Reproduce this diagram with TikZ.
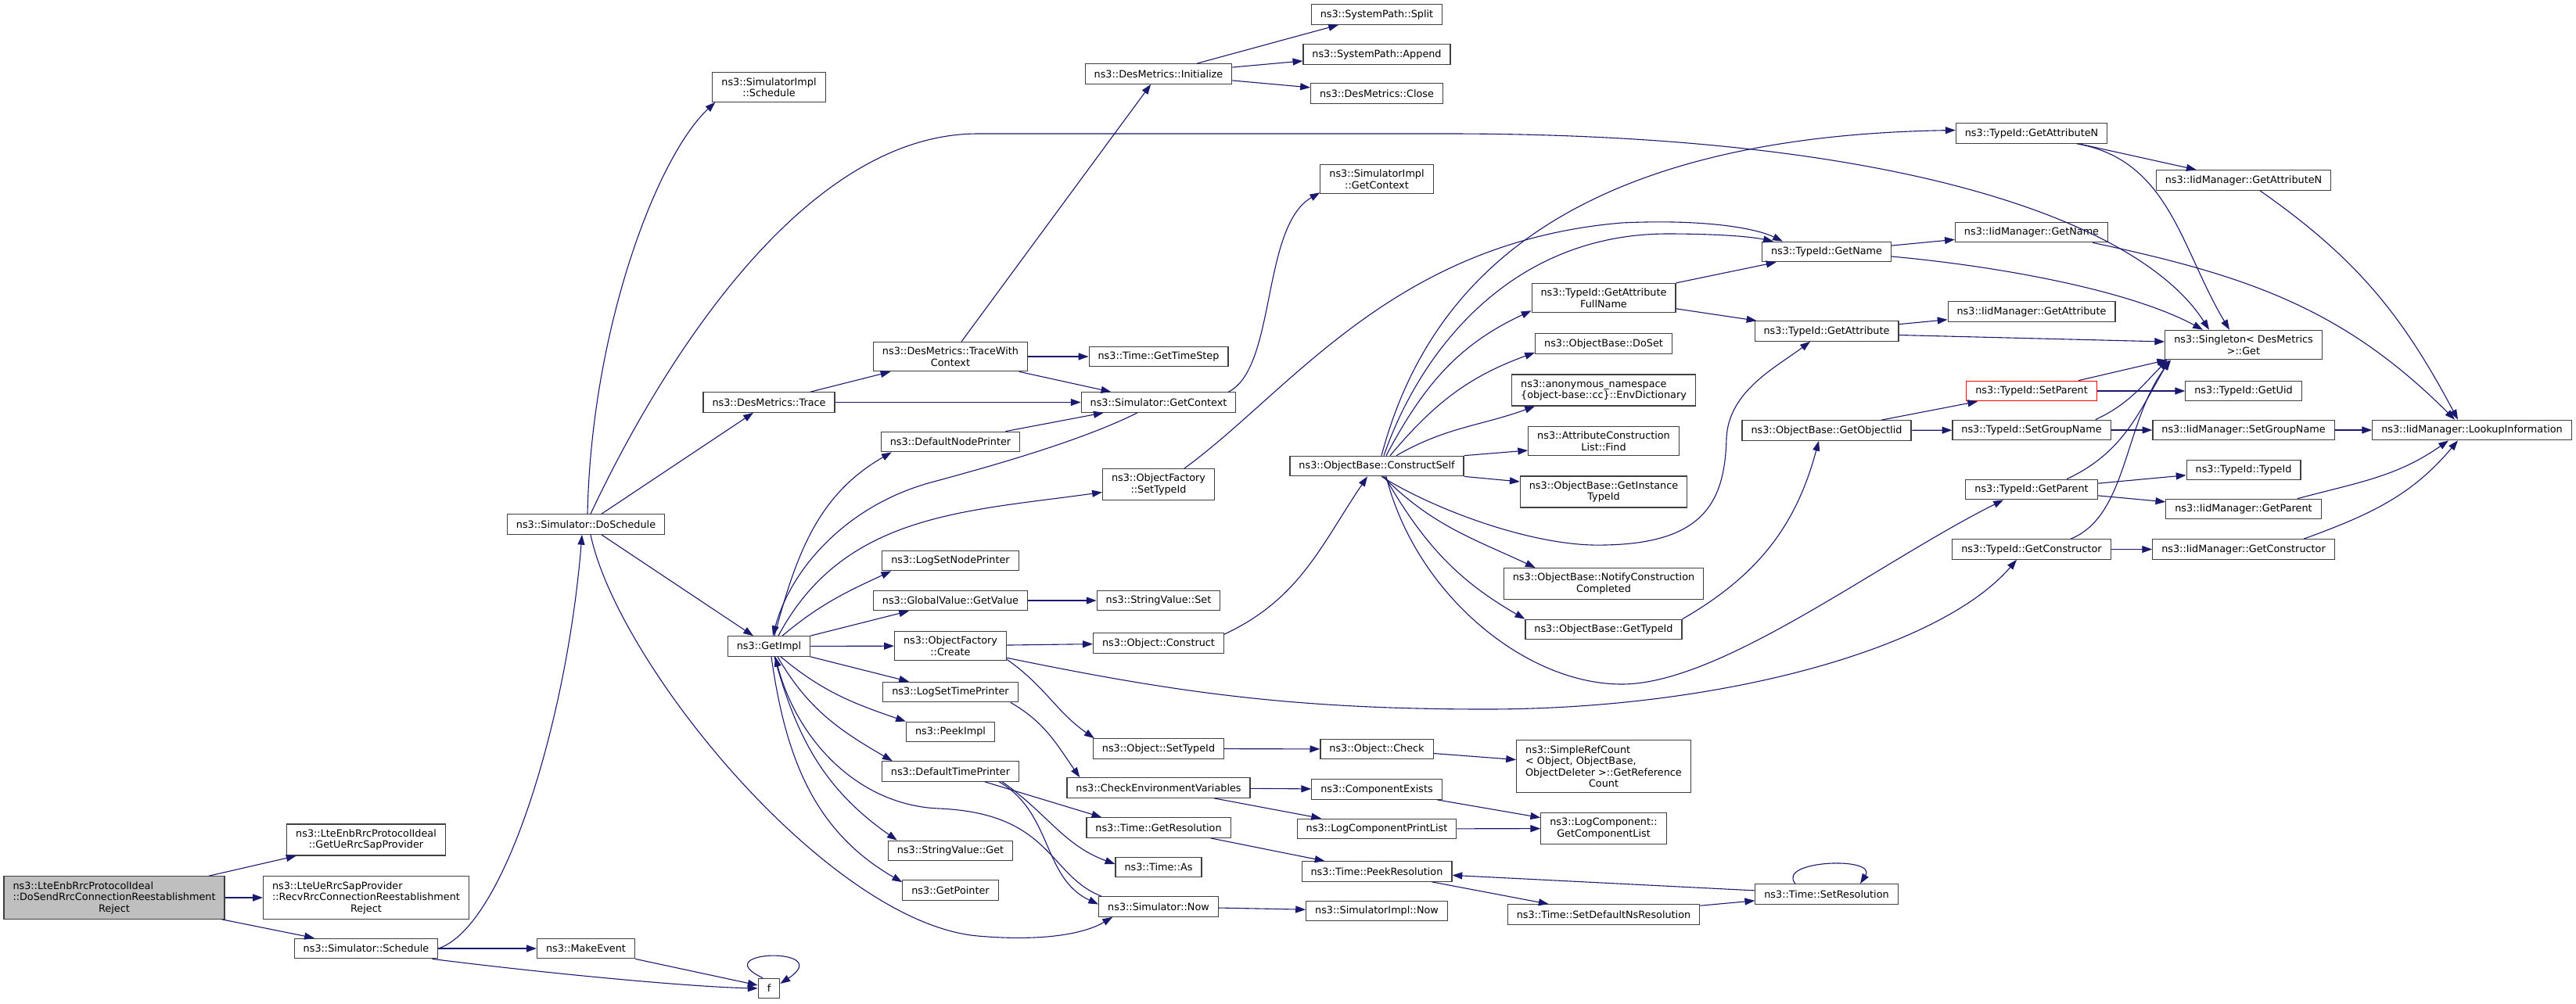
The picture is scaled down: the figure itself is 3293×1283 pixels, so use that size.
\documentclass[tikz,border=0pt]{standalone}
\usepackage{fontspec}
\setmainfont{DejaVu Sans}
\usetikzlibrary{arrows.meta}
\definecolor{edgeblue}{HTML}{191970}
\definecolor{boxgray}{HTML}{404040}
\definecolor{curfill}{HTML}{BFBFBF}
\newcommand{\lft}[2]{\rlap{#1}\phantom{#2}}

\begin{document}
\begin{tikzpicture}[x=1pt, y=1pt,
    every node/.style={draw=boxgray, line width=1.2pt, fill=white, rectangle, minimum height=25.5pt, inner xsep=11.5pt, inner ysep=6.5pt, align=center, font=\fontsize{12.8}{14.5}\selectfont},
    current/.style={fill=curfill},
    missing/.style={draw=red},
    arrow/.style={-{Triangle[length=12.8pt,width=9pt]}, draw=edgeblue, line width=1.1pt}
]
\path[use as bounding box, fill=white] (0,0) rectangle (3293,-1283);

\node[current] (main) at (146,-1148) {\lft{ns3::LteEnbRrcProtocolIdeal}{::DoSendRrcConnectionReestablishment}\\::DoSendRrcConnectionReestablishment\\Reject};
\node (getue) at (468,-1074) {ns3::LteEnbRrcProtocolIdeal\\::GetUeRrcSapProvider};
\node (recv) at (468,-1148) {\lft{ns3::LteUeRrcSapProvider}{::RecvRrcConnectionReestablishment}\\::RecvRrcConnectionReestablishment\\Reject};
\node (sched) at (468,-1213) {ns3::Simulator::Schedule};
\node (dosched) at (749,-670.5) {ns3::Simulator::DoSchedule};
\node (makeev) at (749,-1213) {ns3::MakeEvent};
\node (simplsched) at (983,-111.5) {ns3::SimulatorImpl\\::Schedule};
\node (trace) at (983,-514.5) {ns3::DesMetrics::Trace};
\node (getimpl) at (983,-826.5) {ns3::GetImpl};
\node (f) at (983,-1264) {f};
\node (tracectx) at (1215,-456) {ns3::DesMetrics::TraceWith\\Context};
\node (defnode) at (1215,-565) {ns3::DefaultNodePrinter};
\node (lognode) at (1215,-717) {ns3::LogSetNodePrinter};
\node (gvget) at (1215,-768) {ns3::GlobalValue::GetValue};
\node (ofcreate) at (1215,-826) {ns3::ObjectFactory\\::Create};
\node (logtime) at (1215,-885) {ns3::LogSetTimePrinter};
\node (peek) at (1215,-936) {ns3::PeekImpl};
\node (deftime) at (1215,-986.5) {ns3::DefaultTimePrinter};
\node (svget) at (1215,-1088) {ns3::StringValue::Get};
\node (getptr) at (1215,-1138.5) {ns3::GetPointer};
\node (init) at (1481,-94.5) {ns3::DesMetrics::Initialize};
\node (timestep) at (1481,-456) {ns3::Time::GetTimeStep};
\node (simctx) at (1481,-514.5) {ns3::Simulator::GetContext};
\node (ofsettid) at (1481,-619.5) {ns3::ObjectFactory\\::SetTypeId};
\node (svset) at (1481,-768) {ns3::StringValue::Set};
\node (objconstr) at (1481,-822.5) {ns3::Object::Construct};
\node (objsettid) at (1481,-957.5) {ns3::Object::SetTypeId};
\node (checkenv) at (1481,-1007.5) {ns3::CheckEnvironmentVariables};
\node (getres) at (1481,-1058.5) {ns3::Time::GetResolution};
\node (tas) at (1481,-1109) {ns3::Time::As};
\node (simnow) at (1481,-1159.5) {ns3::Simulator::Now};
\node (split) at (1760,-18.5) {ns3::SystemPath::Split};
\node (append) at (1760,-69.5) {ns3::SystemPath::Append};
\node (close) at (1760,-119.5) {ns3::DesMetrics::Close};
\node (implctx) at (1760,-229) {ns3::SimulatorImpl\\::GetContext};
\node (constrself) at (1760,-596) {ns3::ObjectBase::ConstructSelf};
\node (objcheck) at (1760,-958) {ns3::Object::Check};
\node (compexists) at (1760,-1009.5) {ns3::ComponentExists};
\node (logprint) at (1760,-1060) {ns3::LogComponentPrintList};
\node (peekres) at (1760,-1114.5) {ns3::Time::PeekResolution};
\node (implnow) at (1760,-1165) {ns3::SimulatorImpl::Now};
\node (fullname) at (2050,-381) {ns3::TypeId::GetAttribute\\FullName};
\node (doset) at (2050,-439.5) {ns3::ObjectBase::DoSet};
\node (envdict) at (2050,-499) {\lft{ns3::anonymous\_namespace}{\{object-base::cc\}::EnvDictionary}\\\{object-base::cc\}::EnvDictionary};
\node (findattr) at (2050,-564) {ns3::AttributeConstruction\\List::Find};
\node (insttid) at (2050,-629) {ns3::ObjectBase::GetInstance\\TypeId};
\node (notify) at (2050,-746.5) {ns3::ObjectBase::NotifyConstruction\\Completed};
\node (gettid) at (2050,-805) {ns3::ObjectBase::GetTypeId};
\node (refcount) at (2050,-980) {\lft{ns3::SimpleRefCount}{ObjectDeleter >::GetReference}\\\lft{< Object, ObjectBase,}{ObjectDeleter >::GetReference}\\ObjectDeleter >::GetReference\\Count};
\node (complist) at (2050,-1059.5) {ns3::LogComponent::\\GetComponentList};
\node (setdefns) at (2050,-1169.5) {ns3::Time::SetDefaultNsResolution};
\node (getname) at (2335,-322) {ns3::TypeId::GetName};
\node (getattr) at (2335,-423.5) {ns3::TypeId::GetAttribute};
\node (getiid) at (2335,-550.5) {ns3::ObjectBase::GetObjectIid};
\node (setres) at (2335,-1143.5) {ns3::Time::SetResolution};
\node (getattrn) at (2597,-170.5) {ns3::TypeId::GetAttributeN};
\node (iidname) at (2597,-297) {ns3::IidManager::GetName};
\node (iidattr) at (2597,-398.5) {ns3::IidManager::GetAttribute};
\node[missing] (setparent) at (2597,-500) {ns3::TypeId::SetParent};
\node (setgroup) at (2597,-550) {ns3::TypeId::SetGroupName};
\node (getparent) at (2597,-626) {ns3::TypeId::GetParent};
\node (getctor) at (2597,-702.5) {ns3::TypeId::GetConstructor};
\node (iidattrn) at (2868,-230.5) {ns3::IidManager::GetAttributeN};
\node (singleton) at (2868,-441) {ns3::Singleton< DesMetrics\\ >::Get};
\node (getuid) at (2868,-500) {ns3::TypeId::GetUid};
\node (iidgroup) at (2868,-550) {ns3::IidManager::SetGroupName};
\node (typeid) at (2868,-601) {ns3::TypeId::TypeId};
\node (iidparent) at (2868,-651) {ns3::IidManager::GetParent};
\node (iidctor) at (2868,-702.5) {ns3::IidManager::GetConstructor};
\node (lookup) at (3160,-550) {ns3::IidManager::LookupInformation};

\draw[arrow] (main) -- (getue);
\draw[arrow] (main) -- (recv);
\draw[arrow] (main) -- (sched);
\draw[arrow] (sched.east) .. controls (645,-1185) and (725,-920) .. ([xshift=-5pt]dosched.south);
\draw[arrow] (sched) -- (makeev);
\draw[arrow] ([xshift=-8pt]sched.south east) .. controls (700,-1245) and (880,-1262) .. (f.west);
\draw[arrow] (makeev.south east) -- ([yshift=4pt]f.west);
\draw[arrow] ([xshift=-8pt]f.north) .. controls (900,-1215) and (1070,-1210) .. ([yshift=6pt]f.east);

\draw[arrow] ([xshift=2pt]dosched.north) .. controls (756,-420) and (840,-200) .. ([xshift=4pt]simplsched.south west);
\draw[arrow] (dosched) -- (trace);
\draw[arrow] (dosched) -- (getimpl);
\draw[arrow] ([xshift=6pt]dosched.north) .. controls (810,-540) and (1000,-171) .. (1250,-171) -- (1850,-171) .. controls (2450,-171) and (2740,-290) .. ([xshift=-44pt]singleton.north);
\draw[arrow] ([xshift=6pt]dosched.south) .. controls (790,-850) and (1060,-1180) .. (1250,-1197) .. controls (1330,-1204) and (1385,-1195) .. ([xshift=18pt]simnow.south west);

\draw[arrow] (trace) -- (tracectx);
\draw[arrow] (trace) -- (simctx);
\draw[arrow] (tracectx) -- (init);
\draw[arrow] (tracectx) -- (timestep);
\draw[arrow] (tracectx) -- (simctx);
\draw[arrow] (init) -- (split);
\draw[arrow] (init) -- (append);
\draw[arrow] (init) -- (close);
\draw[arrow] ([xshift=-10pt]simctx.north east) .. controls (1632,-470) and (1612,-290) .. ([yshift=2pt]implctx.south west);
\draw[arrow] ([xshift=-27pt]simctx.south) .. controls (1380,-565) and (1260,-598) .. (1190,-617) .. controls (1080,-647) and (1010,-730) .. ([xshift=5pt]getimpl.north);
\draw[arrow] (defnode) -- (simctx);

\draw[arrow] ([xshift=7pt]getimpl.north) to[out=75,in=-150] ([xshift=14pt]defnode.south west);
\draw[arrow] ([xshift=12pt]getimpl.north) to[out=62,in=188] ([yshift=-10pt]ofsettid.west);
\draw[arrow] ([xshift=17pt]getimpl.north) to[out=40,in=-155] ([xshift=12pt]lognode.south west);
\draw[arrow] (getimpl) -- (gvget);
\draw[arrow] (gvget) -- (svset);
\draw[arrow] (getimpl) -- (ofcreate);
\draw[arrow] (getimpl) -- (logtime);
\draw[arrow] ([xshift=15pt]getimpl.south) to[out=-40,in=161] (peek.north west);
\draw[arrow] ([xshift=11pt]getimpl.south) to[out=-60,in=150] ([xshift=14pt]deftime.north west);
\draw[arrow] ([xshift=7pt]getimpl.south) to[out=-75,in=145] ([xshift=12pt]svget.north west);
\draw[arrow] ([xshift=3pt]getimpl.south) to[out=-82,in=150] ([yshift=-3pt]getptr.north west);
\draw[arrow] ([xshift=4pt]simnow.north west) .. controls (1340,-1120) and (1345,-1040) .. (1200,-1034) .. controls (1100,-1030) and (1020,-950) .. ([xshift=8pt]getimpl.south);

\draw[arrow] ([xshift=-10pt]logtime.south east) to[out=-30,in=125] ([xshift=17pt]checkenv.north west);
\draw[arrow] (ofcreate) -- (objconstr);
\draw[arrow] ([yshift=2pt]ofcreate.south east) to[out=-35,in=145] ([xshift=2pt]objsettid.north west);
\draw[arrow] ([yshift=4pt]ofcreate.south east) .. controls (1500,-885) and (1650,-907) .. (1900,-907) .. controls (2200,-907) and (2480,-830) .. ([xshift=-19pt]getctor.south);
\draw[arrow] ([yshift=-2pt]objconstr.north east) to[out=25,in=-124] ([xshift=-12pt]constrself.south);
\draw[arrow] (objsettid) -- (objcheck);
\draw[arrow] (objcheck) -- (refcount);
\draw[arrow] (checkenv) -- (compexists);
\draw[arrow] (checkenv) -- (logprint);
\draw[arrow] (compexists) -- (complist);
\draw[arrow] (logprint) -- (complist);
\draw[arrow] (deftime) -- ([xshift=20pt]getres.north west);
\draw[arrow] ([xshift=-22pt]deftime.south east) to[out=-35,in=160] ([yshift=4pt]tas.west);
\draw[arrow] ([xshift=-26pt]deftime.south east) to[out=-30,in=155] ([yshift=3pt]simnow.west);
\draw[arrow] (getres) -- (peekres);
\draw[arrow] (simnow) -- (implnow);

\draw[arrow] ([xshift=6pt]constrself.north) .. controls (1820,-380) and (1980,-175) .. ([yshift=4pt]getattrn.west);
\draw[arrow] ([xshift=9pt]constrself.north) .. controls (1815,-450) and (1930,-300) .. (2130,-299) .. controls (2200,-299) and (2240,-303) .. ([xshift=15pt]getname.north west);
\draw[arrow] ([xshift=33pt]ofsettid.north) .. controls (1650,-500) and (1780,-310) .. (2073,-285) .. controls (2180,-280) and (2245,-292) .. ([xshift=27pt]getname.north west);
\draw[arrow] ([xshift=12pt]constrself.north) to[out=62,in=-155] ([yshift=3pt]fullname.south west);
\draw[arrow] ([xshift=17pt]constrself.north) to[out=50,in=-160] ([yshift=2pt]doset.south west);
\draw[arrow] ([xshift=25pt]constrself.north) to[out=30,in=-160] ([xshift=30pt]envdict.south west);
\draw[arrow] (constrself.north east) -- ([yshift=-12pt]findattr.west);
\draw[arrow] (constrself.south east) -- ([yshift=13pt]insttid.west);
\draw[arrow] ([xshift=6pt]constrself.south) .. controls (1830,-650) and (1960,-700) .. (2051,-697) .. controls (2180,-695) and (2205,-640) .. (2207,-560) .. controls (2210,-500) and (2270,-470) .. ([xshift=-21pt]getattr.south);
\draw[arrow] ([xshift=8pt]constrself.south) to[out=-45,in=155] ([xshift=41pt]notify.north west);
\draw[arrow] ([xshift=10pt]constrself.south) to[out=-60,in=150] (gettid.north west);
\draw[arrow] ([xshift=12pt]constrself.south) .. controls (1810,-760) and (1950,-875) .. (2073,-875) .. controls (2200,-875) and (2400,-720) .. ([xshift=-36pt]getparent.south);
\draw[arrow] (gettid.north east) to[out=30,in=-105] ([xshift=-10pt]getiid.south);

\draw[arrow] (fullname) -- (getname);
\draw[arrow] (fullname) -- (getattr);
\draw[arrow] (getname) -- (iidname);
\draw[arrow] ([yshift=-6pt]getname.east) .. controls (2550,-340) and (2720,-370) .. ([xshift=-52pt]singleton.north);
\draw[arrow] (getattr) -- (iidattr);
\draw[arrow] ([yshift=-5pt]getattr.east) -- ([yshift=4pt]singleton.west);
\draw[arrow] (getattrn) -- (iidattrn);
\draw[arrow] ([xshift=58pt]getattrn.south) to[out=-10,in=121] ([xshift=-18pt]singleton.north);
\draw[arrow] ([xshift=21pt]iidattrn.south) to[out=-35,in=118] ([xshift=-18pt]lookup.north);
\draw[arrow] ([xshift=-20pt]iidname.south east) to[out=-12,in=135] ([xshift=-22pt]lookup.north);
\draw[arrow] ([xshift=70pt]getiid.north) -- ([xshift=15pt]setparent.south west);
\draw[arrow] (getiid) -- (setgroup);
\draw[arrow] ([xshift=60pt]setparent.north) -- ([xshift=3pt]singleton.south west);
\draw[arrow] (setparent) -- (getuid);
\draw[arrow] ([xshift=-20pt]setgroup.north east) to[out=25,in=-135] ([xshift=4pt]singleton.south west);
\draw[arrow] (setgroup) -- (iidgroup);
\draw[arrow] (iidgroup) -- (lookup);
\draw[arrow] ([xshift=45pt]getparent.north) to[out=25,in=-120] ([xshift=6pt]singleton.south west);
\draw[arrow] (getparent) -- (typeid);
\draw[arrow] (getparent) -- (iidparent);
\draw[arrow] ([xshift=69pt]iidparent.north) to[out=15,in=-145] ([xshift=-30pt]lookup.south);
\draw[arrow] ([xshift=50pt]getctor.north) .. controls (2720,-660) and (2715,-540) .. ([xshift=8pt]singleton.south west);
\draw[arrow] (getctor) -- (iidctor);
\draw[arrow] ([xshift=77pt]iidctor.north) to[out=20,in=-130] ([xshift=-18pt]lookup.south);

\draw[arrow] (setdefns) -- (setres);
\draw[arrow] (setres) -- (peekres);
\draw[arrow] (peekres) -- (setdefns);
\draw[arrow] ([xshift=-40pt]setres.north) .. controls (2270,-1100) and (2400,-1095) .. ([xshift=43pt]setres.north);

\end{tikzpicture}
\end{document}
